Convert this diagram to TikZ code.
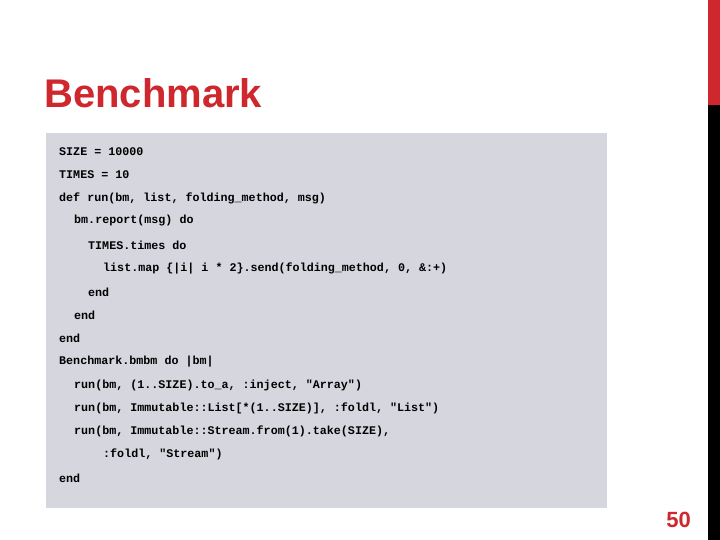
\documentclass[tikz,border=0pt]{standalone}
\usepackage{fontspec}
\setmainfont{Liberation Sans}
\newfontfamily\codefont{Liberation Mono}
\definecolor{accent}{RGB}{206,39,45}
\definecolor{codebg}{RGB}{214,214,222}
\begin{document}
\begin{tikzpicture}[x=1pt,y=-1pt,
  code/.style={anchor=west,inner sep=0pt,font=\codefont\bfseries\fontsize{11.7}{12}\selectfont}]
\useasboundingbox (0,0) rectangle (720,540);
\fill[white] (0,0) rectangle (720,540);
\fill[black] (708,0) rectangle (720,540);
\fill[accent] (708,0) rectangle (720,105);
\node[anchor=base west,inner sep=0pt,text=accent,font=\bfseries\fontsize{40}{40}\selectfont] (title) at (44,108) {Benchmark};
\fill[codebg] (46,133) rectangle (607,508);
\node[code] (l1) at (59,152) {SIZE = 10000};
\node[code] (l2) at (59,175) {TIMES = 10};
\node[code] (l3) at (59,198) {def run(bm, list, folding\_method, msg)};
\node[code] (l4) at (74,221) {bm.report(msg) do};
\node[code] (l5) at (88,245) {TIMES.times do};
\node[code] (l6) at (103,268) {list.map \{|i| i * 2\}.send(folding\_method, 0, \&:+)};
\node[code] (l7) at (88,292) {end};
\node[code] (l8) at (74,315) {end};
\node[code] (l9) at (59,338) {end};
\node[code] (l10) at (59,362) {Benchmark.bmbm do |bm|};
\node[code] (l11) at (74,385) {run(bm, (1..SIZE).to\_a, :inject, "Array")};
\node[code] (l12) at (74,408) {run(bm, Immutable::List[*(1..SIZE)], :foldl, "List")};
\node[code] (l13) at (74,431) {run(bm, Immutable::Stream.from(1).take(SIZE),};
\node[code] (l14) at (103,454) {:foldl, "Stream")};
\node[code] (l15) at (59,478) {end};
\node[anchor=base east,inner sep=0pt,text=accent,font=\bfseries\fontsize{22}{22}\selectfont] (pg) at (691,527) {50};
\end{tikzpicture}
\end{document}
